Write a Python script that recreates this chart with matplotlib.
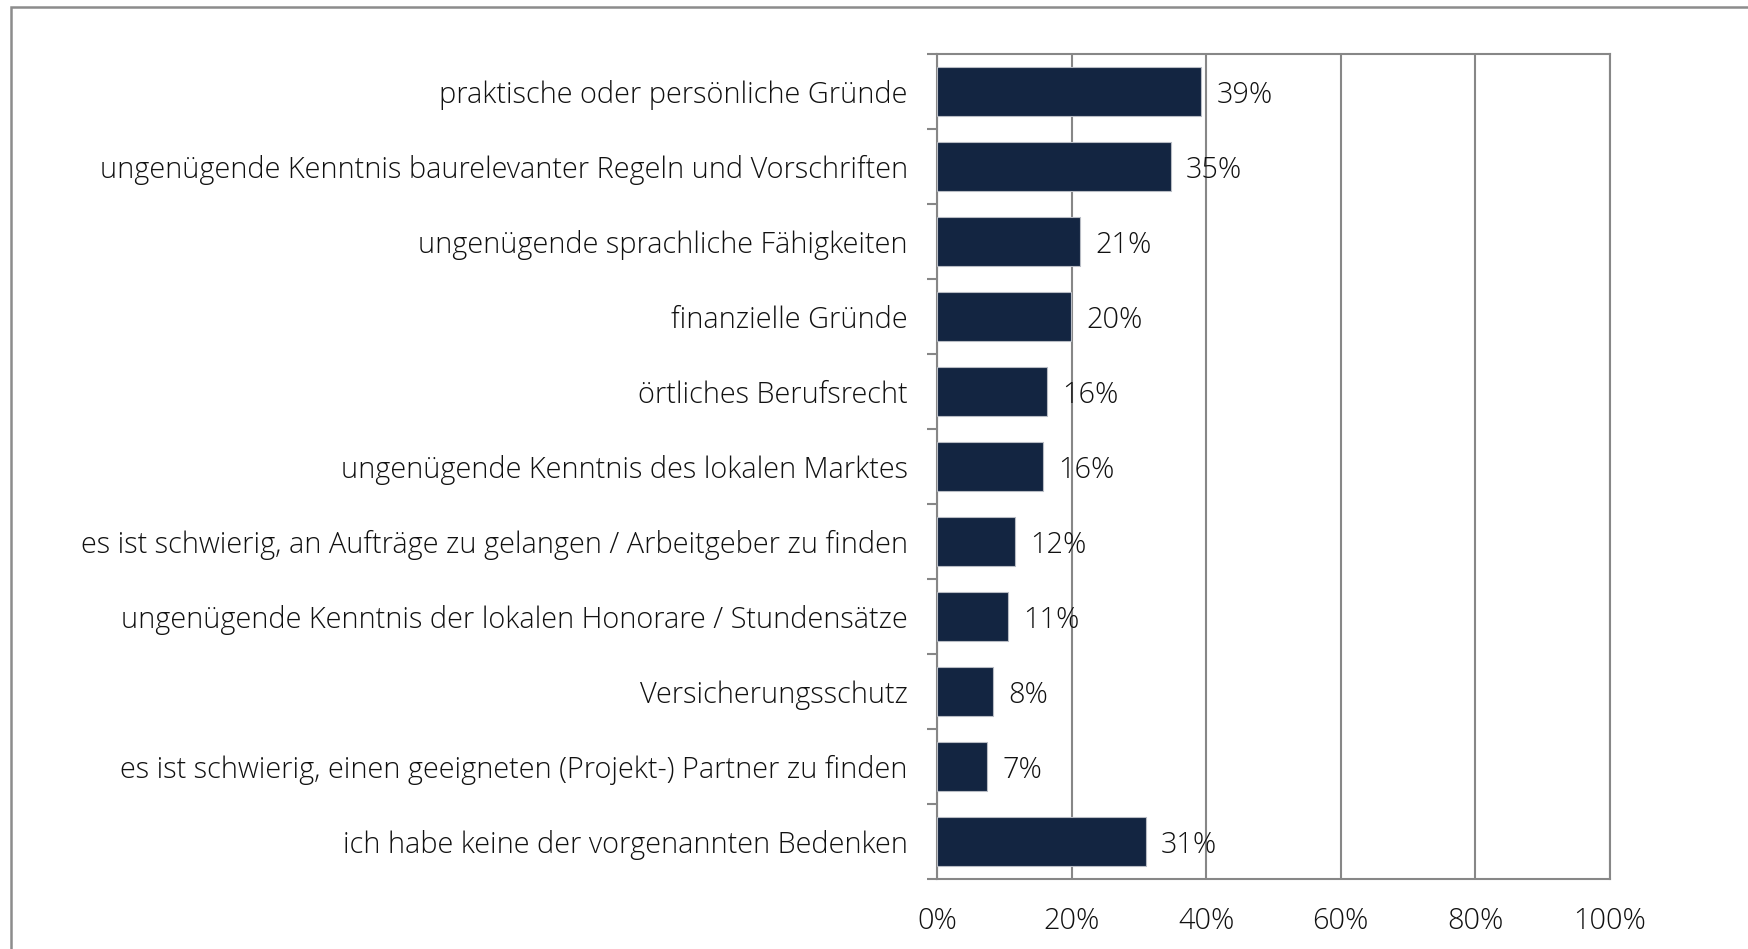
import matplotlib
matplotlib.use("Agg")
import matplotlib.pyplot as plt
from matplotlib.patches import Rectangle

categories = [
    "praktische oder persönliche Gründe",
    "ungenügende Kenntnis baurelevanter Regeln und Vorschriften",
    "ungenügende sprachliche Fähigkeiten",
    "finanzielle Gründe",
    "örtliches Berufsrecht",
    "ungenügende Kenntnis des lokalen Marktes",
    "es ist schwierig, an Aufträge zu gelangen / Arbeitgeber zu finden",
    "ungenügende Kenntnis der lokalen Honorare / Stundensätze",
    "Versicherungsschutz",
    "es ist schwierig, einen geeigneten (Projekt-) Partner zu finden",
    "ich habe keine der vorgenannten Bedenken",
]
values = [39.3, 34.7, 21.2, 19.9, 16.3, 15.8, 11.6, 10.6, 8.3, 7.5, 31.0]
value_labels = ["39%", "35%", "21%", "20%", "16%", "16%", "12%", "11%", "8%", "7%", "31%"]
xticks = [0, 20, 40, 60, 80, 100]
xtick_labels = ["0%", "20%", "40%", "60%", "80%", "100%"]

plt.rcParams['font.family'] = ['Open Sans', 'DejaVu Sans']
FS = 20.8
BAR = "#132541"
GRID = "#878787"
TXT = "#111111"

fig = plt.figure(figsize=(17.49, 9.49), dpi=100)
ax = fig.add_axes([937/1749, 1-879/949, (1610-937)/1749, (879-54)/949])

n = len(categories)
ypos = list(range(n))
ax.barh(ypos, values, height=0.66, color=BAR, edgecolor="#b8bcc4", linewidth=0.8, zorder=3)
for y, v, lab in zip(ypos, values, value_labels):
    ax.annotate(lab, (v, y), xytext=(11, -3), textcoords="offset points",
                va="center", ha="left", fontsize=FS, fontweight="light", color=TXT, zorder=5)

ax.set_xlim(0, 100)
ax.set_ylim(n - 0.5, -0.5)
ax.set_xticks(xticks)
ax.set_xticklabels(xtick_labels, fontsize=FS, fontweight="light", color=TXT)
ax.tick_params(axis="x", length=0, pad=20)
ax.set_yticks(ypos)
ax.set_yticklabels(categories, fontsize=FS, fontweight="light", color=TXT)
ax.tick_params(axis="y", which="major", length=0, pad=21)
ax.set_yticks([i - 0.5 for i in range(n + 1)], minor=True)
ax.tick_params(axis="y", which="minor", length=7, width=1.5, color=GRID, direction="out")

ax.grid(axis="x", color=GRID, linewidth=1.5, zorder=0)
ax.set_axisbelow(True)
for s in ax.spines.values():
    s.set_color(GRID)
    s.set_linewidth(1.5)

fig.patches.append(Rectangle((11/1749, -0.1), 1.2, (949-7)/949 + 0.1, transform=fig.transFigure,
                             fill=False, edgecolor="#8c8c8c", linewidth=1.8))

fig.savefig("out.png", dpi=100)
